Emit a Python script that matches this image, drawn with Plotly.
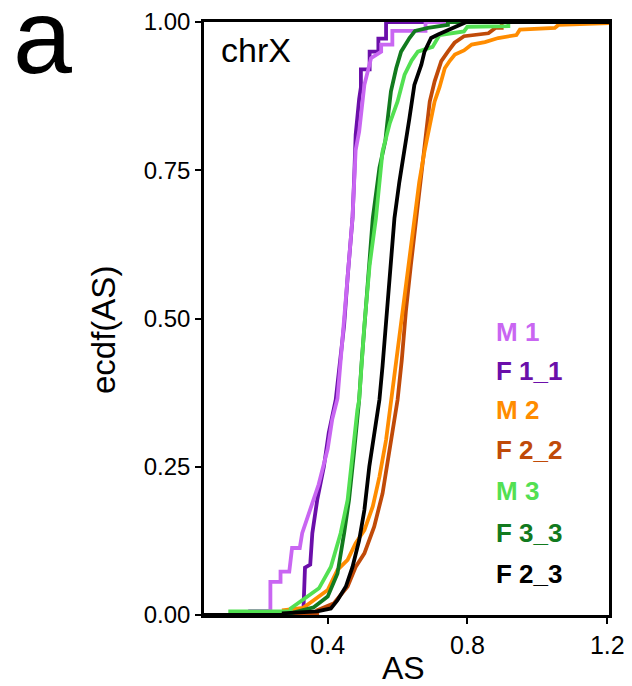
import plotly.graph_objects as go

# ---- data: ECDF curve vertices (AS value, cumulative fraction) ----
M1_x = [0.178, 0.178, 0.236, 0.236, 0.265, 0.265, 0.290, 0.298, 0.320, 0.327, 0.351, 0.374, 0.400, 0.413, 0.428, 0.447, 0.457, 0.471, 0.480, 0.490, 0.505, 0.524, 0.553, 0.553, 0.585, 0.585, 0.680, 0.680]
M1_y = [0.000, 0.007, 0.007, 0.056, 0.056, 0.073, 0.073, 0.113, 0.113, 0.138, 0.180, 0.220, 0.280, 0.330, 0.365, 0.489, 0.570, 0.670, 0.784, 0.815, 0.894, 0.939, 0.950, 0.962, 0.962, 0.985, 0.985, 1.000]

F1_1_x = [0.330, 0.335, 0.350, 0.356, 0.370, 0.389, 0.403, 0.423, 0.435, 0.447, 0.457, 0.471, 0.476, 0.480, 0.490, 0.495, 0.495, 0.520, 0.520, 0.545, 0.545, 0.567, 0.567]
F1_1_y = [0.000, 0.080, 0.085, 0.138, 0.194, 0.250, 0.307, 0.363, 0.420, 0.489, 0.570, 0.669, 0.740, 0.810, 0.870, 0.890, 0.920, 0.920, 0.950, 0.950, 0.972, 0.972, 1.000]

M2_x = [0.178, 0.178, 0.274, 0.274, 0.330, 0.360, 0.400, 0.428, 0.457, 0.480, 0.505, 0.529, 0.548, 0.567, 0.578, 0.590, 0.603, 0.615, 0.630, 0.648, 0.662, 0.677, 0.692, 0.706, 0.720, 0.735, 0.750, 0.764, 0.790, 0.812, 0.850, 0.888, 0.940, 0.950, 1.050, 1.060, 1.205]
M2_y = [0.000, 0.004, 0.004, 0.008, 0.012, 0.025, 0.042, 0.076, 0.093, 0.121, 0.143, 0.183, 0.233, 0.295, 0.340, 0.400, 0.460, 0.514, 0.590, 0.669, 0.730, 0.782, 0.830, 0.866, 0.890, 0.922, 0.935, 0.945, 0.952, 0.962, 0.966, 0.973, 0.978, 0.987, 0.990, 0.995, 0.998]

F2_2_x = [0.370, 0.370, 0.418, 0.457, 0.480, 0.505, 0.533, 0.557, 0.576, 0.591, 0.600, 0.612, 0.624, 0.638, 0.653, 0.665, 0.677, 0.685, 0.692, 0.706, 0.720, 0.725, 0.744, 0.763, 0.790, 0.860, 0.880, 0.898, 0.898]
F2_2_y = [0.000, 0.008, 0.020, 0.048, 0.081, 0.104, 0.149, 0.205, 0.278, 0.329, 0.363, 0.430, 0.514, 0.590, 0.669, 0.730, 0.782, 0.830, 0.866, 0.900, 0.922, 0.934, 0.950, 0.965, 0.976, 0.981, 0.990, 0.990, 1.000]

M3_x = [0.121, 0.121, 0.294, 0.294, 0.327, 0.375, 0.409, 0.437, 0.457, 0.471, 0.485, 0.490, 0.497, 0.505, 0.520, 0.538, 0.557, 0.578, 0.600, 0.620, 0.640, 0.658, 0.700, 0.720, 0.790, 0.800, 0.917, 0.917]
M3_y = [0.000, 0.006, 0.006, 0.011, 0.025, 0.045, 0.081, 0.138, 0.194, 0.278, 0.346, 0.363, 0.425, 0.489, 0.590, 0.669, 0.782, 0.830, 0.866, 0.911, 0.935, 0.950, 0.958, 0.978, 0.984, 0.992, 0.993, 1.000]

F3_3_x = [0.294, 0.294, 0.360, 0.400, 0.428, 0.447, 0.461, 0.476, 0.490, 0.497, 0.505, 0.518, 0.529, 0.548, 0.565, 0.572, 0.581, 0.596, 0.610, 0.634, 0.650, 0.687, 0.744, 0.744]
F3_3_y = [0.000, 0.003, 0.013, 0.031, 0.070, 0.138, 0.194, 0.278, 0.363, 0.425, 0.489, 0.590, 0.669, 0.754, 0.800, 0.838, 0.883, 0.922, 0.950, 0.973, 0.985, 0.990, 0.995, 1.000]

F2_3_x = [0.274, 0.274, 0.370, 0.409, 0.428, 0.452, 0.471, 0.490, 0.505, 0.519, 0.533, 0.548, 0.557, 0.567, 0.580, 0.591, 0.605, 0.620, 0.634, 0.648, 0.668, 0.677, 0.696, 0.716, 0.760, 0.783, 0.797]
F2_3_y = [0.000, 0.003, 0.006, 0.011, 0.025, 0.048, 0.081, 0.126, 0.177, 0.250, 0.306, 0.363, 0.420, 0.489, 0.590, 0.669, 0.730, 0.782, 0.838, 0.894, 0.928, 0.950, 0.973, 0.979, 0.990, 0.995, 1.000]

labels = ["M 1", "F 1_1", "M 2", "F 2_2", "M 3", "F 3_3", "F 2_3"]
colors = ["#C966F2", "#6B0FAA", "#FF8C00", "#C04A08", "#52E052", "#127A1E", "#000000"]
series_x = [M1_x, F1_1_x, M2_x, F2_2_x, M3_x, F3_3_x, F2_3_x]
series_y = [M1_y, F1_1_y, M2_y, F2_2_y, M3_y, F3_3_y, F2_3_y]
draw_order = [1, 0, 3, 2, 5, 4, 6]

x_range = [0.046, 1.205]
y_range = [0.0, 1.0]
x_ticks = [0.4, 0.8, 1.2]
x_ticktext = ["0.4", "0.8", "1.2"]
y_ticks = [0.0, 0.25, 0.5, 0.75, 1.0]
y_ticktext = ["0.00", "0.25", "0.50", "0.75", "1.00"]

FONT = "Liberation Sans, Arial, Helvetica, sans-serif"

fig = go.Figure()
for i in draw_order:
    xs = [x_range[0]] + series_x[i] + [x_range[1]]
    ys = [0.0] + series_y[i] + [1.0]
    fig.add_trace(go.Scatter(x=xs, y=ys, mode="lines", line=dict(color=colors[i], width=3.8),
                             name=labels[i], showlegend=False, hoverinfo="skip"))

# page body has an 8px margin: figure is offset by (8, 8) in the window
OFF = 8
W, H = 632 - OFF, 686 - OFF
L, R, T, B = 204 - OFF, 23, 22 - OFF, 71
pw = W - L - R
ph = H - T - B

def px_to_paper(px, py):
    fx, fy = px - OFF, py - OFF
    return (fx - L) / pw, (H - B - fy) / ph

annotations = []
leg_py = [332, 371, 410, 450, 491, 533, 574]
for lab, col, py in zip(labels, colors, leg_py):
    ax_, ay_ = px_to_paper(494, py)
    annotations.append(dict(text="<b>" + lab + "</b>", x=ax_, y=ay_, xref="paper", yref="paper",
                            xanchor="left", yanchor="middle", showarrow=False,
                            font=dict(family=FONT, size=26, color=col)))

cx, cy = px_to_paper(219, 50)
annotations.append(dict(text="chrX", x=cx, y=cy, xref="paper", yref="paper", xanchor="left", yanchor="middle",
                        showarrow=False, font=dict(family=FONT, size=34, color="black")))
ax_, ay_ = px_to_paper(403, 668)
annotations.append(dict(text="AS", x=ax_, y=ay_, xref="paper", yref="paper", xanchor="center", yanchor="middle",
                        showarrow=False, font=dict(family=FONT, size=32, color="black")))
ax_, ay_ = px_to_paper(103, 330)
annotations.append(dict(text="ecdf(AS)", x=ax_, y=ay_, xref="paper", yref="paper", xanchor="center", yanchor="middle",
                        textangle=-90, showarrow=False, font=dict(family=FONT, size=33, color="black")))
ax_, ay_ = px_to_paper(42, 36)
annotations.append(dict(text="a", x=ax_, y=ay_, xref="paper", yref="paper", xanchor="center", yanchor="middle",
                        showarrow=False, font=dict(family=FONT, size=106, color="black")))

fig.update_layout(
    width=W, height=H,
    margin=dict(l=L, r=R, t=T, b=B),
    paper_bgcolor="white", plot_bgcolor="white",
    showlegend=False,
    annotations=annotations,
    xaxis=dict(range=x_range, tickvals=x_ticks, ticktext=x_ticktext, showgrid=False, zeroline=False,
               showline=True, linecolor="black", linewidth=2.5, mirror=True, automargin=False,
               ticks="outside", ticklen=6, tickwidth=2, tickcolor="black",
               tickfont=dict(family=FONT, size=25, color="black")),
    yaxis=dict(range=y_range, tickvals=y_ticks, ticktext=y_ticktext, showgrid=False, zeroline=False,
               showline=True, linecolor="black", linewidth=2.5, mirror=True, automargin=False,
               ticks="outside", ticklen=6, tickwidth=2, tickcolor="black",
               tickfont=dict(family=FONT, size=24, color="black")),
)

fig.write_html("out.html")
